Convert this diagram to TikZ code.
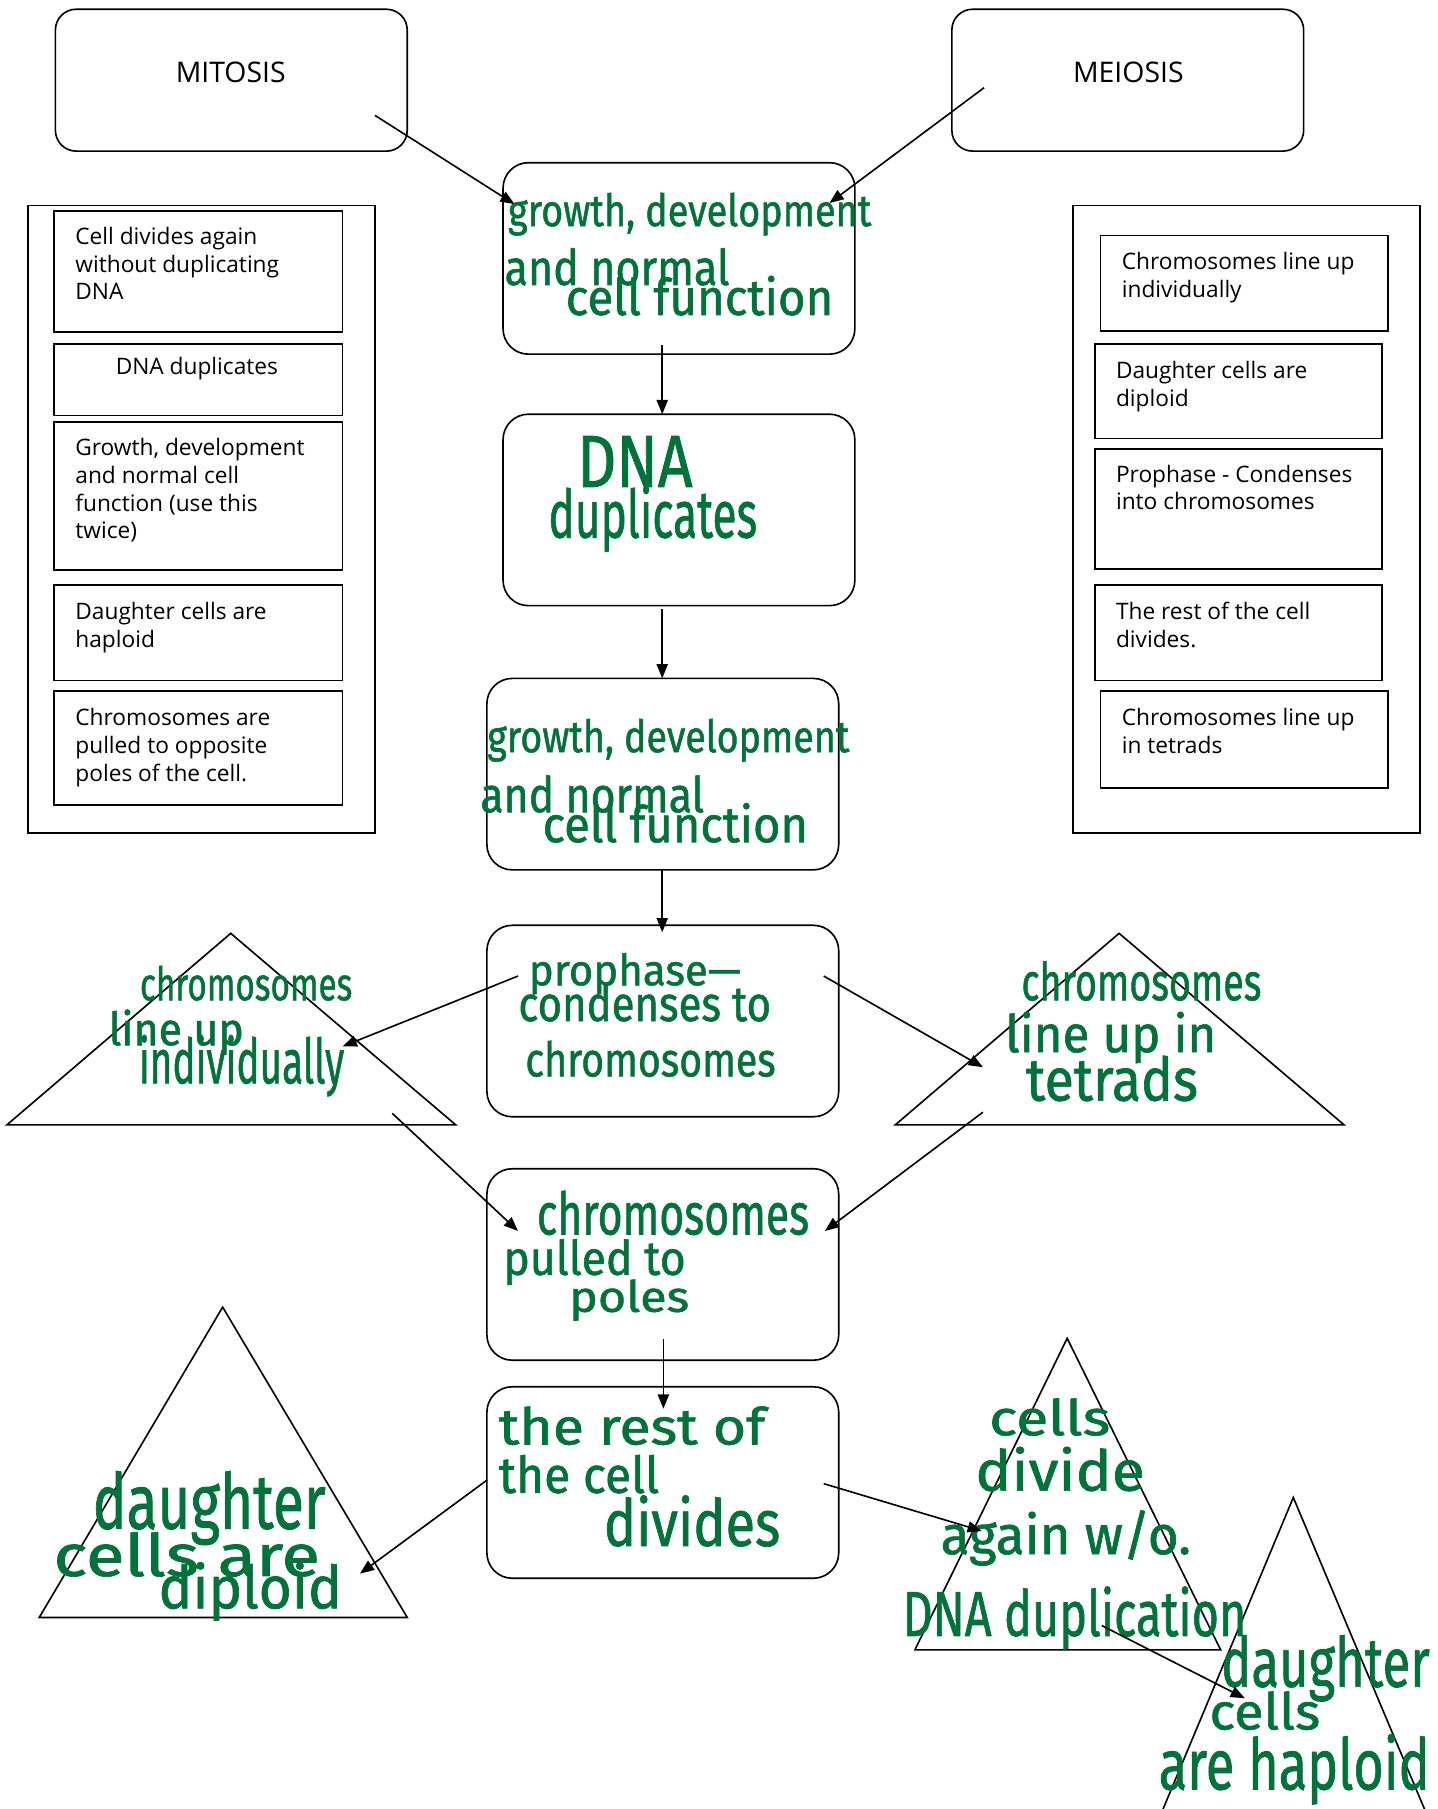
\documentclass[tikz,border=0pt]{standalone}
\usepackage{fontspec}
\setmainfont{Open Sans}
\newfontfamily\handfont[FakeBold=1.2]{Fira Sans}
\usetikzlibrary{arrows.meta}
\newdimen\pxu \pxu=0.2mm
\definecolor{ink}{RGB}{0,115,58}
\newcommand\hwtext[3]{\resizebox{#1\pxu}{#2\pxu}{\handfont #3}}
\newcommand\plines[1]{\vtop{\baselineskip=24\pxu\lineskiplimit=-20pt\halign{##\hfil\cr#1\crcr}}}
\begin{document}
\begin{tikzpicture}[x=0.02cm,y=-0.02cm,
  box/.style={draw, line width=0.8pt, inner sep=0pt},
  rbox/.style={box, rounded corners=4.4mm, minimum width=6.1cm, minimum height=3.32cm},
  hbox/.style={box, rounded corners=3.6mm, minimum width=6.1cm, minimum height=2.46cm},
  panel/.style={box, minimum width=6.02cm, minimum height=10.88cm},
  ptext/.style={font=\fontsize{11.2}{13.7}\selectfont, inner sep=0pt, anchor=base west},
  htitle/.style={font=\fontsize{14}{16}\selectfont, inner sep=0pt},
  hand/.style={text=ink, inner sep=0pt, anchor=base west},
  arr/.style={-{Triangle[length=7pt,width=5.5pt]}, line width=0.8pt},
  tri/.style={draw, line width=0.8pt}]
\useasboundingbox (0,0) rectangle (1246,1568);
\fill[white] (0,0) rectangle (1246,1568);
\clip (0,0) rectangle (1246,1568);

% header boxes
\node[hbox] (mit) at (200.5,69.5) {};
\node[htitle] (mitl) at (200,63) {MITOSIS};
\node[hbox] (mei) at (977.5,69.5) {};
\node[htitle] (meil) at (978,63) {MEIOSIS};

% side panels
\node[panel] (lp) at (174.5,450) {};
\node[panel] (rp) at (1080.5,450) {};

\node[box, minimum width=5cm, minimum height=2.1cm] (l1) at (172,235.5) {};
\node[box, minimum width=5cm, minimum height=1.24cm] (l2) at (172,329) {};
\node[box, minimum width=5cm, minimum height=2.56cm] (l3) at (172,430) {};
\node[box, minimum width=5cm, minimum height=1.66cm] (l4) at (172,548.5) {};
\node[box, minimum width=5cm, minimum height=1.98cm] (l5) at (172,648.5) {};

\node[box, minimum width=4.98cm, minimum height=1.66cm] (r1) at (1078.5,245.5) {};
\node[box, minimum width=4.98cm, minimum height=1.64cm] (r2) at (1073.5,339) {};
\node[box, minimum width=4.98cm, minimum height=2.08cm] (r3) at (1073.5,441) {};
\node[box, minimum width=4.98cm, minimum height=1.66cm] (r4) at (1073.5,548.5) {};
\node[box, minimum width=4.98cm, minimum height=1.68cm] (r5) at (1078.5,641) {};

\node[ptext] (t1) at (65,212) {\plines{Cell divides again\cr without duplicating\cr DNA}};
\node[ptext] (t2) at (100,325) {DNA duplicates};
\node[ptext] (t3) at (65,395) {\plines{Growth, development\cr and normal cell\cr function (use this\cr twice)}};
\node[ptext] (t4) at (65,537) {\plines{Daughter cells are\cr haploid}};
\node[ptext] (t5) at (65,629) {\plines{Chromosomes are\cr pulled to opposite\cr poles of the cell.}};

\node[ptext] (s1) at (972,234) {\plines{Chromosomes line up\cr individually}};
\node[ptext] (s2) at (967,328) {\plines{Daughter cells are\cr diploid}};
\node[ptext] (s3) at (967,418) {\plines{Prophase - Condenses\cr into chromosomes}};
\node[ptext] (s4) at (967,537) {\plines{The rest of the cell\cr divides.}};
\node[ptext] (s5) at (972,629) {\plines{Chromosomes line up\cr in tetrads}};

% central boxes
\node[rbox] (A) at (588.5,224) {};
\node[rbox] (B) at (588.5,442) {};
\node[rbox] (C) at (574.5,671) {};
\node[rbox] (D) at (574.5,885) {};
\node[rbox] (E) at (574.5,1096) {};
\node[rbox] (F) at (574.5,1285) {};

% triangles
\coordinate (T1a) at (200,809); \coordinate (T1b) at (6,975); \coordinate (T1c) at (395,975);
\coordinate (T2a) at (970,809); \coordinate (T2b) at (776,975); \coordinate (T2c) at (1165,975);
\coordinate (T3a) at (193,1133); \coordinate (T3b) at (34,1402); \coordinate (T3c) at (353,1402);
\coordinate (T4a) at (925,1160); \coordinate (T4b) at (793,1430); \coordinate (T4c) at (1058,1430);
\coordinate (T5a) at (1121,1298); \coordinate (T5b) at (978,1640); \coordinate (T5c) at (1265,1640);
\draw[tri] (T1a) -- (T1b) -- (T1c) -- cycle;
\draw[tri] (T2a) -- (T2b) -- (T2c) -- cycle;
\draw[tri] (T3a) -- (T3b) -- (T3c) -- cycle;
\draw[tri] (T4a) -- (T4b) -- (T4c) -- cycle;
\draw[tri] (T5a) -- (T5b) -- (T5c) -- cycle;

% handwritten text
\node[hand] (a1) at (440,196) {\hwtext{315}{29}{growth, development}};
\node[hand] (a2) at (437,247) {\hwtext{195}{32}{and normal}};
\node[hand] (a3) at (490,273) {\hwtext{232}{34}{cell function}};
\node[hand] (b1) at (500,422) {\hwtext{100}{44}{DNA}};
\node[hand] (b2) at (475,466) {\hwtext{181}{45}{duplicates}};
\node[hand] (c1) at (422,652) {\hwtext{314}{29}{growth, development}};
\node[hand] (c2) at (416,704) {\hwtext{194}{32}{and normal}};
\node[hand] (c3) at (470,730) {\hwtext{230}{34}{cell function}};
\node[hand] (d1) at (458,854) {\hwtext{184}{28}{prophase—}};
\node[hand] (d2) at (449,885) {\hwtext{219}{32}{condenses to}};
\node[hand] (d3) at (455,933) {\hwtext{217}{31}{chromosomes}};
\node[hand] (e1) at (465,1070) {\hwtext{236}{38}{chromosomes}};
\node[hand] (e2) at (436,1105) {\hwtext{158}{31}{pulled to}};
\node[hand] (e3) at (493,1137) {\hwtext{104}{28}{poles}};
\node[hand] (f1) at (432,1252) {\hwtext{231}{33}{the rest of}};
\node[hand] (f2) at (432,1294) {\hwtext{139}{33}{the cell}};
\node[hand] (f3) at (523,1340) {\hwtext{153}{44}{divides}};
\node[hand] (g1) at (121,867) {\hwtext{184}{30}{chromosomes}};
\node[hand] (g2) at (94,906) {\hwtext{117}{31}{line up}};
\node[hand] (g3) at (120,939) {\hwtext{178}{42}{individually}};
\node[hand] (h1) at (885,867) {\hwtext{208}{34}{chromosomes}};
\node[hand] (h2) at (871,912) {\hwtext{183}{35}{line up in}};
\node[hand] (h3) at (889,954) {\hwtext{149}{39}{tetrads}};
\node[hand] (i1) at (80,1325) {\hwtext{202}{50}{daughter}};
\node[hand] (i2) at (46,1366) {\hwtext{231}{38}{cells are}};
\node[hand] (i3) at (137,1394) {\hwtext{159}{40}{diploid}};
\node[hand] (j1) at (857,1244) {\hwtext{105}{32}{cells}};
\node[hand] (j2) at (845,1292) {\hwtext{147}{38}{divide}};
\node[hand] (j3) at (815,1347) {\hwtext{217}{38}{again w/o.}};
\node[hand] (j4) at (782,1418) {\hwtext{298}{43}{DNA duplication}};
\node[hand] (k1) at (1058,1462) {\hwtext{181}{45}{daughter}};
\node[hand] (k2) at (1048,1499) {\hwtext{96}{33}{cells}};
\node[hand] (k3) at (1004,1551) {\hwtext{235}{48}{are haploid}};

% connector end points
\coordinate (mitS) at (325,100);   \coordinate (aIn1) at (446,177);
\coordinate (meiS) at (853,76);    \coordinate (aIn2) at (719,176);
\coordinate (aS) at (574,299);     \coordinate (bT) at (574,359);
\coordinate (bS) at (574,528);     \coordinate (cT) at (574,588);
\coordinate (cS) at (574,754);     \coordinate (dT) at (574,808);
\coordinate (dL) at (449,846);     \coordinate (t1E) at (297,907);
\coordinate (dR) at (714,846);     \coordinate (t2E) at (852,925);
\coordinate (t1S) at (340,965);    \coordinate (eL) at (449,1067);
\coordinate (t2S) at (852,964);    \coordinate (eR) at (715,1067);
\coordinate (eS) at (575,1161);    \coordinate (fT) at (575,1221);
\coordinate (fL) at (422,1283);    \coordinate (t3E) at (312,1364);
\coordinate (fR) at (714,1286);    \coordinate (t4E) at (851,1327);
\coordinate (t4S) at (955,1409);   \coordinate (t5E) at (1079,1472);

\draw[arr] (mitS) -- (aIn1);
\draw[arr] (meiS) -- (aIn2);
\draw[arr] (aS) -- (bT);
\draw[arr] (bS) -- (cT);
\draw[arr] (cS) -- (dT);
\draw[arr] (dL) -- (t1E);
\draw[arr] (dR) -- (t2E);
\draw[arr] (t1S) -- (eL);
\draw[arr] (t2S) -- (eR);
\draw[arr] (eS) -- (fT);
\draw[arr] (fL) -- (t3E);
\draw[arr] (fR) -- (t4E);
\draw[arr] (t4S) -- (t5E);
\end{tikzpicture}
\end{document}
